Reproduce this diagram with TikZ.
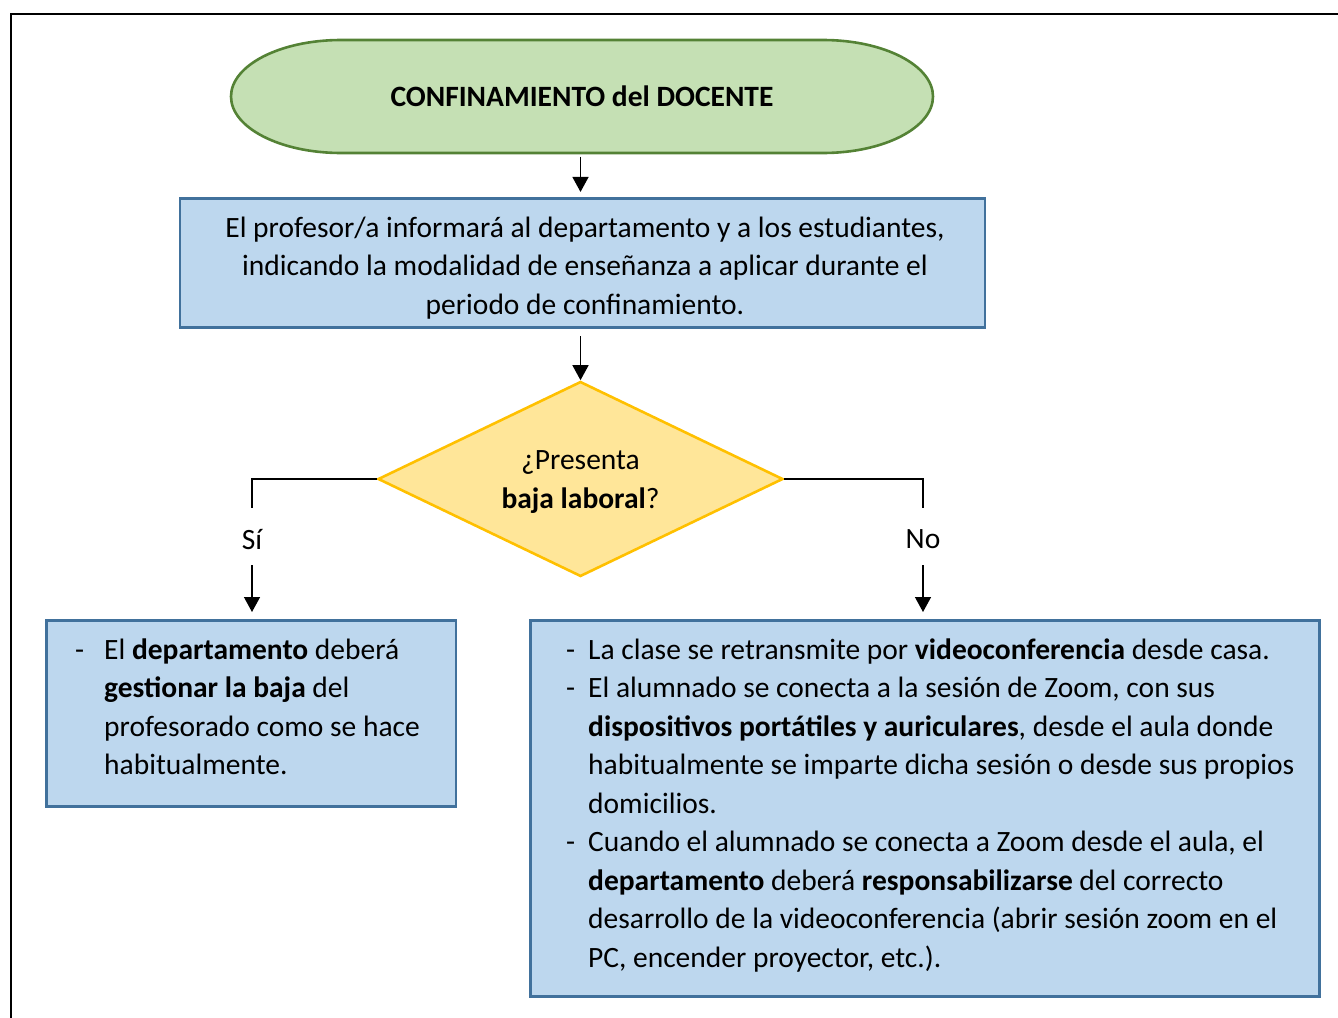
\documentclass[tikz,border=0pt]{standalone}
\usepackage{fontspec}
\setmainfont{Carlito}
\usetikzlibrary{arrows.meta,shapes.geometric}
\definecolor{gfill}{HTML}{C5E0B4}
\definecolor{gline}{HTML}{548235}
\definecolor{bfill}{HTML}{BDD7EE}
\definecolor{bline}{HTML}{41719C}
\definecolor{yfill}{HTML}{FFE699}
\definecolor{yline}{HTML}{FFC000}
\begin{document}
\begin{tikzpicture}[x=1pt,y=-1pt,
  every node/.style={font=\fontsize{29.5}{38.5}\selectfont},
  bluebox/.style={draw=bline,fill=bfill,line width=2.6pt,inner sep=0pt},
  conn/.style={line width=1.4pt},
  arr/.style={conn,-{Triangle[width=16pt,length=15pt]}},
  plain/.style={inner sep=0pt}]
\useasboundingbox (0,0) rectangle (1338,1017);
% outer frame
\draw[line width=2.6pt] (1340,14) -- (11,14) -- (11,1020);
% terminator shape
\draw[draw=gline,fill=gfill,line width=2.6pt]
  (341,40) -- (823,40) arc[start angle=90,end angle=-90,x radius=110pt,y radius=56.5pt]
  -- (341,153) arc[start angle=270,end angle=90,x radius=110pt,y radius=56.5pt] -- cycle;
\node[plain,minimum width=702pt,minimum height=113pt] (start) at (582,96) {\textbf{CONFINAMIENTO del DOCENTE}};
% box 1
\node[bluebox,minimum width=805pt,minimum height=129.5pt] (inform) at (582.5,263) {};
\node[plain,align=center] (informtext) at (585,268)
  {El profesor/a informará al departamento y a los estudiantes,\\
   indicando la modalidad de enseñanza a aplicar durante el\\
   periodo de confinamiento.};
% decision
\node[diamond,draw=yline,fill=yfill,line width=2.6pt,minimum width=405pt,minimum height=195pt,
  aspect=2.08,inner sep=0pt] (q) at (580.5,479) {};
\node[plain,align=center] (qtext) at (580.5,482) {¿Presenta\\ \textbf{baja laboral}?};
% labels
\node (si) at (252,540) {Sí};
\node (no) at (923,539) {No};
\coordinate (siTop) at (252,508);
\coordinate (siBot) at (252,565);
\coordinate (noTop) at (923,508);
\coordinate (noBot) at (923,565);
% bottom boxes
\node[bluebox,minimum width=409.4pt,minimum height=186.4pt] (lbox) at (251.3,713.5) {};
\node[bluebox,minimum width=789.4pt,minimum height=376.4pt] (rbox) at (925,808.5) {};
\node[plain,anchor=base west] (ltext) at (75,659)
  {\begin{tabular}[t]{@{}p{29pt}@{}l@{}}
   - & El \textbf{departamento} deberá\\
     & \textbf{gestionar la baja} del\\
     & profesorado como se hace\\
     & habitualmente.
   \end{tabular}};
\node[plain,anchor=base west] (rtext) at (566,659)
  {\begin{tabular}[t]{@{}p{22pt}@{}l@{}}
   - & La clase se retransmite por \textbf{videoconferencia} desde casa.\\
   - & El alumnado se conecta a la sesión de Zoom, con sus\\
     & \textbf{dispositivos portátiles y auriculares}, desde el aula donde\\
     & habitualmente se imparte dicha sesión o desde sus propios\\
     & domicilios.\\
   - & Cuando el alumnado se conecta a Zoom desde el aula, el\\
     & \textbf{departamento} deberá \textbf{responsabilizarse} del correcto\\
     & desarrollo de la videoconferencia (abrir sesión zoom en el\\
     & PC, encender proyector, etc.).
   \end{tabular}};
% connectors
\draw[arr,shorten <=4pt,shorten >=5pt] (start.south -| q.north) -- (inform.north -| q.north);
\draw[arr,shorten <=7pt] (inform.south -| q.north) -- (q.north);
\draw[conn] (q.west) -| (siTop);
\draw[conn] (q.east) -| (noTop);
\draw[arr,shorten >=7pt] (siBot) -- (siBot |- lbox.north);
\draw[arr,shorten >=7pt] (noBot) -- (noBot |- rbox.north);
\end{tikzpicture}
\end{document}
